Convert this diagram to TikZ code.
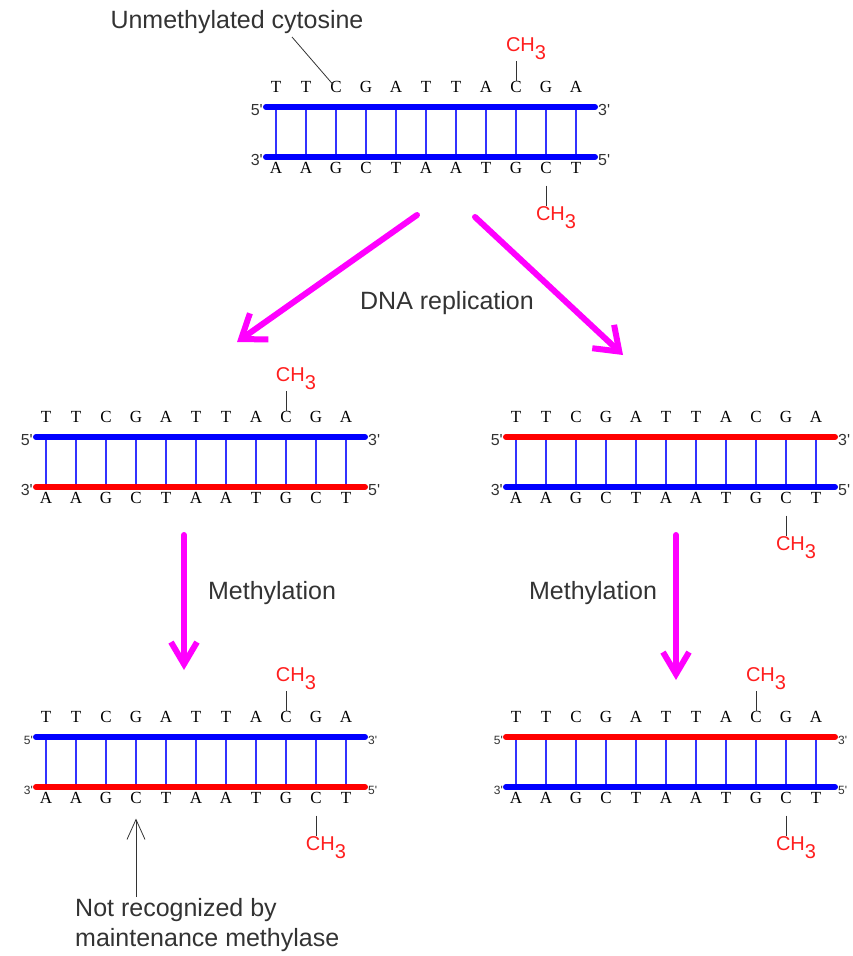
\documentclass[tikz,border=0pt]{standalone}
\usepackage{fontspec}
\setmainfont{Liberation Sans}
\newfontfamily\basefont{Liberation Serif}
\usetikzlibrary{arrows.meta}

\definecolor{dnablue}{RGB}{0,0,255}
\definecolor{dnared}{RGB}{255,0,0}
\definecolor{rungblue}{RGB}{50,50,255}
\definecolor{methylred}{RGB}{255,30,30}
\definecolor{arrowpink}{RGB}{255,0,255}

\begin{document}
\begin{tikzpicture}[x=1pt,y=-1pt]
    % Define styles
    \tikzstyle{base} = [inner sep=5pt, font=\basefont\fontsize{17}{17}\selectfont, text height=0.66em, text depth=0pt]
    \tikzstyle{prime} = [inner sep=1pt, font=\fontsize{16}{16}\selectfont, text=black!80]
    \tikzstyle{smallprime} = [prime, font=\fontsize{12}{12}\selectfont]
    \tikzstyle{strand} = [line width=6pt, line cap=round]
    \tikzstyle{rung} = [line width=1.3pt, draw=rungblue]
    \tikzstyle{methyl} = [inner sep=1pt, text=methylred, font=\fontsize{20}{20}\selectfont]
    \tikzstyle{methyltick} = [line width=1pt, draw=black!80]
    \tikzstyle{annot} = [inner sep=1pt, font=\fontsize{25}{30}\selectfont, text=black!80]
    \tikzstyle{bigarrow} = [line width=6pt, draw=arrowpink, line cap=round, -{Straight Barb[length=22pt,width=32pt]}]
    \tikzstyle{downarrow} = [bigarrow, -{Straight Barb[length=22pt,width=26pt]}]
    \tikzstyle{pointer} = [line width=0.8pt, draw=black!80]
    \tikzstyle{notearrow} = [pointer, -{Straight Barb[length=20pt,width=18pt]}]

    \useasboundingbox (0,0) rectangle (852,956);

    % Duplexes: number / first rung x / top strand y / top colour / bottom colour / end labels
    \foreach \d/\x/\y/\topcol/\botcol/\ps in {1/276/107/dnablue/dnablue/prime,
                                              2/46/437/dnablue/dnared/prime,
                                              3/516/437/dnared/dnablue/prime,
                                              4/46/737/dnablue/dnared/smallprime,
                                              5/516/737/dnared/dnablue/smallprime} {
        \coordinate (d\d-tl) at ({\x-10},\y);
        \coordinate (d\d-tr) at ({\x+319},\y);
        \coordinate (d\d-bl) at ({\x-10},{\y+50});
        \coordinate (d\d-br) at ({\x+319},{\y+50});

        % Bases and rungs
        \foreach \i/\tb/\bb in {0/T/A,1/T/A,2/C/G,3/G/C,4/A/T,5/T/A,6/T/A,7/A/T,8/C/G,9/G/C,10/A/T} {
            \node[base] (d\d-t\i) at ({\x+30*\i},{\y-18}) {\tb};
            \node[base] (d\d-b\i) at ({\x+30*\i},{\y+63}) {\bb};
            \draw[rung] (d\d-t\i |- d\d-tl) -- (d\d-b\i |- d\d-bl);
        }

        % Strands
        \draw[strand, draw=\topcol] (d\d-tl) -- (d\d-tr);
        \draw[strand, draw=\botcol] (d\d-bl) -- (d\d-br);

        % End labels
        \node[\ps, anchor=east] (d\d-p5) at ([xshift=-2pt,yshift=-3pt]d\d-tl) {5\textquotesingle};
        \node[\ps, anchor=west] (d\d-p3) at ([xshift=2pt,yshift=-3pt]d\d-tr) {3\textquotesingle};
        \node[\ps, anchor=east] (d\d-q3) at ([xshift=-2pt,yshift=-3pt]d\d-bl) {3\textquotesingle};
        \node[\ps, anchor=west] (d\d-q5) at ([xshift=2pt,yshift=-3pt]d\d-br) {5\textquotesingle};
    }

    % Methyl groups on the top strand
    \foreach \d in {1,2,4,5} {
        \node[methyl, anchor=south] (d\d-mt) at ([xshift=10pt,yshift=20pt]d\d-t8.north) {CH\raisebox{-0.4em}{3}};
        \draw[methyltick] (d\d-t8.north) -- (d\d-t8.north |- d\d-mt.south);
    }

    % Methyl groups on the bottom strand
    \foreach \d in {1,3,4,5} {
        \node[methyl, anchor=north] (d\d-mb) at ([xshift=10pt,yshift=-27pt]d\d-b9.south) {CH\raisebox{-0.4em}{3}};
        \draw[methyltick] ([yshift=-7pt]d\d-b9.south) -- (d\d-b9.south |- d\d-mb.north);
    }

    % Unmethylated cytosine
    \node[annot] (unmeth) at (237,22) {Unmethylated cytosine};
    \coordinate (unmeth-y) at (292,37);
    \draw[pointer] (unmeth-y) -- ([xshift=-3pt,yshift=-4pt]d1-t2.north);

    % DNA replication
    \coordinate (rep-l-start) at (417,215);
    \coordinate (rep-l-end) at (237,342);
    \coordinate (rep-r-start) at (475,217);
    \coordinate (rep-r-end) at (623,355);
    \draw[bigarrow] (rep-l-start) -- (rep-l-end);
    \draw[bigarrow] (rep-r-start) -- (rep-r-end);
    \node[annot] (replab) at (447,303) {DNA replication};

    % Methylation
    \coordinate (meth-l-start) at (184,535);
    \coordinate (meth-l-end) at (184,670);
    \coordinate (meth-r-start) at (676,535);
    \coordinate (meth-r-end) at (676,680);
    \draw[downarrow] (meth-l-start) -- (meth-l-end);
    \draw[downarrow] (meth-r-start) -- (meth-r-end);
    \node[annot] (methlab-l) at (272,593) {Methylation};
    \node[annot] (methlab-r) at (593,593) {Methylation};

    % Hemimethylated site
    \node[annot, align=left, anchor=north west] (note) at (74,897) {Not recognized by\\maintenance methylase};
    \draw[notearrow] (note.north -| d4-b3) -- ([yshift=-10pt]d4-b3.south);

\end{tikzpicture}
\end{document}
